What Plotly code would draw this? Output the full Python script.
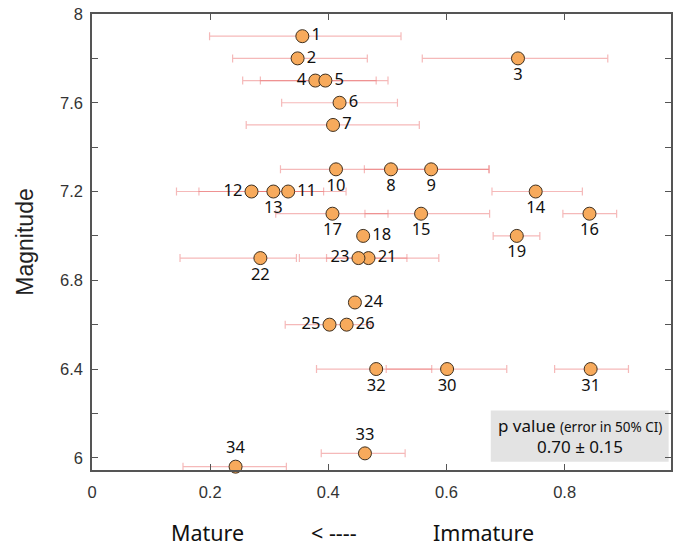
import plotly.graph_objects as go

ids = [1, 2, 3, 4, 5, 6, 7, 8, 9, 10, 11, 12, 13, 14, 15, 16, 17, 18, 19,
       21, 22, 23, 24, 25, 26, 30, 31, 32, 33, 34]
p_value = [0.356, 0.348, 0.721, 0.378, 0.395, 0.419, 0.408, 0.506, 0.574, 0.413,
           0.332, 0.270, 0.307, 0.751, 0.557, 0.842, 0.407, 0.459, 0.719,
           0.468, 0.285, 0.451, 0.445, 0.402, 0.431, 0.601, 0.844, 0.481, 0.462, 0.243]
magnitude = [7.9, 7.8, 7.8, 7.7, 7.7, 7.6, 7.5, 7.3, 7.3, 7.3,
             7.2, 7.2, 7.2, 7.2, 7.1, 7.1, 7.1, 7.0, 7.0,
             6.9, 6.9, 6.9, 6.7, 6.6, 6.6, 6.4, 6.4, 6.4, 6.02, 5.96]
ci_low = [0.199, 0.238, 0.559, 0.255, 0.285, 0.321, 0.261, 0.461, 0.574, 0.319,
          0.272, 0.143, 0.181, 0.677, 0.462, 0.797, 0.311, 0.459, 0.679,
          0.397, 0.149, 0.351, 0.445, 0.327, 0.431, 0.498, 0.783, 0.380, 0.388, 0.154]
ci_high = [0.523, 0.466, 0.873, 0.481, 0.501, 0.517, 0.554, 0.672, 0.574, 0.672,
           0.430, 0.371, 0.392, 0.830, 0.673, 0.888, 0.501, 0.459, 0.758,
           0.587, 0.346, 0.533, 0.445, 0.472, 0.431, 0.702, 0.908, 0.575, 0.530, 0.329]
label_pos = ["middle right", "middle right", "bottom center", "middle left", "middle right",
             "middle right", "middle right", "bottom center", "bottom center", "bottom center",
             "middle right", "middle left", "bottom center", "bottom center", "bottom center",
             "bottom center", "bottom center", "middle right", "bottom center",
             "middle right", "bottom center", "middle left", "middle right", "middle left",
             "middle right", "bottom center", "bottom center", "bottom center", "top center", "top center"]

y_tickvals = [6.0, 6.2, 6.4, 6.6, 6.8, 7.0, 7.2, 7.4, 7.6, 7.8, 8.0]
y_ticktext = ["6", "", "6.4", "", "6.8", "", "7.2", "", "7.6", "", "8"]
x_tickvals = [0, 0.2, 0.4, 0.6, 0.8]
x_ticktext = ["0", "0.2", "0.4", "0.6", "0.8"]

err_plus = [h - x for h, x in zip(ci_high, p_value)]
err_minus = [x - l for l, x in zip(ci_low, p_value)]

fig = go.Figure()
fig.add_trace(go.Scatter(
    x=p_value, y=magnitude, mode="markers+text",
    text=[str(i) for i in ids], textposition=label_pos,
    textfont=dict(family="Noto Sans", size=16.5, color="#111111"),
    marker=dict(size=13, color="#F7AA5C", line=dict(color="#3e3020", width=1)),
    error_x=dict(type="data", symmetric=False, array=err_plus, arrayminus=err_minus,
                 color="rgba(232,100,100,0.45)", thickness=1.2, width=4),
    cliponaxis=False, showlegend=False,
))

axis_common = dict(showline=True, linecolor="#555555", linewidth=1.5, mirror="ticks",
                   ticks="inside", ticklen=6, tickcolor="#555555", tickwidth=1.2,
                   showgrid=False, zeroline=False,
                   tickfont=dict(family="Liberation Sans", size=16.5, color="#333333"))

fig.update_xaxes(range=[0, 0.98], tickvals=x_tickvals, ticktext=x_ticktext,
                 ticklabelstandoff=6, **axis_common)
fig.update_yaxes(range=[5.945, 8.0], tickvals=y_tickvals, ticktext=y_ticktext,
                 ticklabelstandoff=4,
                 title=dict(text="Magnitude", font=dict(family="Liberation Sans", size=23, color="#222222"),
                            standoff=20),
                 **axis_common)

# info box
fig.add_shape(type="rect", xref="x", yref="y", x0=0.675, x1=0.976, y0=5.982, y1=6.213,
              fillcolor="#e3e3e3", line=dict(width=0), layer="below")
fig.add_annotation(xref="x", yref="y", x=0.8255, y=6.147, showarrow=False,
                   text="p value <span style='font-size:13.5px'>(error in 50% CI)</span>",
                   font=dict(family="Noto Sans", size=17, color="#111111"))
fig.add_annotation(xref="x", yref="y", x=0.8255, y=6.05, showarrow=False,
                   text="0.70 ± 0.15",
                   font=dict(family="Noto Sans", size=17, color="#111111"))

# x axis caption
for txt, px in [("Mature", 208), ("< ----", 335), ("Immature", 485)]:
    fig.add_annotation(xref="paper", yref="paper", x=(px - 92) / 581, y=-(532 - 470) / 456,
                       showarrow=False, text=txt, xanchor="center", yanchor="middle",
                       font=dict(family="Noto Sans", size=21.5, color="#111111"))

fig.update_layout(width=675, height=548, margin=dict(l=92, r=2, t=14, b=78),
                  plot_bgcolor="white", paper_bgcolor="white")

fig.write_html("out.html")
